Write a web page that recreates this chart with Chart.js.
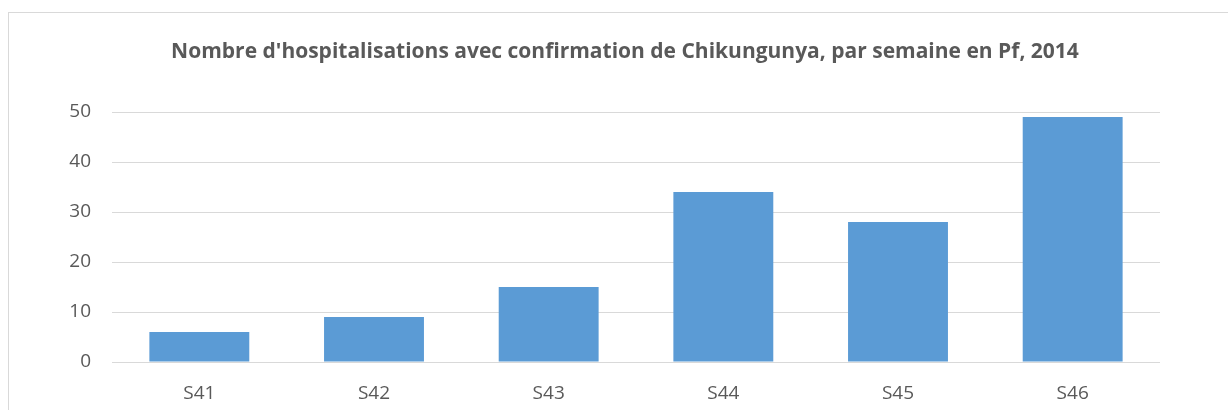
<!DOCTYPE html>
<html>
<head>
<meta charset="utf-8">
<script src="https://cdn.jsdelivr.net/npm/chart.js@4/dist/chart.umd.min.js"></script>
<style>
  body { margin: 0; background: #fff; }
  #wrap { position: relative; width: 1228px; height: 410px; }
  #frame { position: absolute; left: 8px; top: 12px; right: 0; bottom: 0;
           border-top: 1px solid #d9d9d9; border-left: 1px solid #d9d9d9; }
</style>
</head>
<body>
<div id="wrap">
  <div id="frame"></div>
  <canvas id="chart" width="1228" height="410"></canvas>
</div>
<script>
// weeks and hospitalisations
var weeks = ['S41', 'S42', 'S43', 'S44', 'S45', 'S46'];
var hospitalisations = [6, 9, 15, 34, 28, 49];
var titleText = "Nombre d'hospitalisations avec confirmation de Chikungunya, par semaine en Pf, 2014";

var textColor = '#595959';
var gridColor = '#d9d9d9';

// title drawn by hand: the built-in one can't be centred off the plot like in the picture
var titlePlugin = {
  id: 'offsetTitle',
  afterDraw: function (chart) {
    var c = chart.ctx;
    c.save();
    c.font = 'bold 21px "Open Sans"';
    c.fillStyle = textColor;
    c.textAlign = 'center';
    c.textBaseline = 'middle';
    c.fillText(titleText, 625, 52);
    c.restore();
  }
};

var ctx = document.getElementById('chart').getContext('2d');
var myChart = new Chart(ctx, {
  type: 'bar',
  data: {
    labels: weeks,
    datasets: [{
      label: 'Hospitalisations',
      data: hospitalisations,
      backgroundColor: '#5b9bd5',
      borderWidth: 0,
      categoryPercentage: 1,
      barPercentage: 0.572
    }]
  },
  options: {
    responsive: false,
    animation: false,
    layout: {
      padding: { left: 0, right: 68, top: 112, bottom: 0 }
    },
    plugins: {
      legend: { display: false },
      tooltip: { enabled: false },
      title: { display: false }
    },
    scales: {
      x: {
        grid: { display: false, drawTicks: false },
        border: { display: false },
        ticks: {
          color: textColor,
          font: { family: 'Open Sans', size: 19 },
          padding: 20
        },
        afterFit: function (scale) { scale.height = 48; }
      },
      y: {
        min: 0,
        max: 50,
        grid: { color: gridColor, lineWidth: 1, drawTicks: false },
        border: { display: false },
        ticks: {
          stepSize: 10,
          color: textColor,
          font: { family: 'Open Sans', size: 19 },
          padding: 21
        },
        afterFit: function (scale) { scale.width = 112; }
      }
    }
  },
  plugins: [titlePlugin]
});
</script>
</body>
</html>
